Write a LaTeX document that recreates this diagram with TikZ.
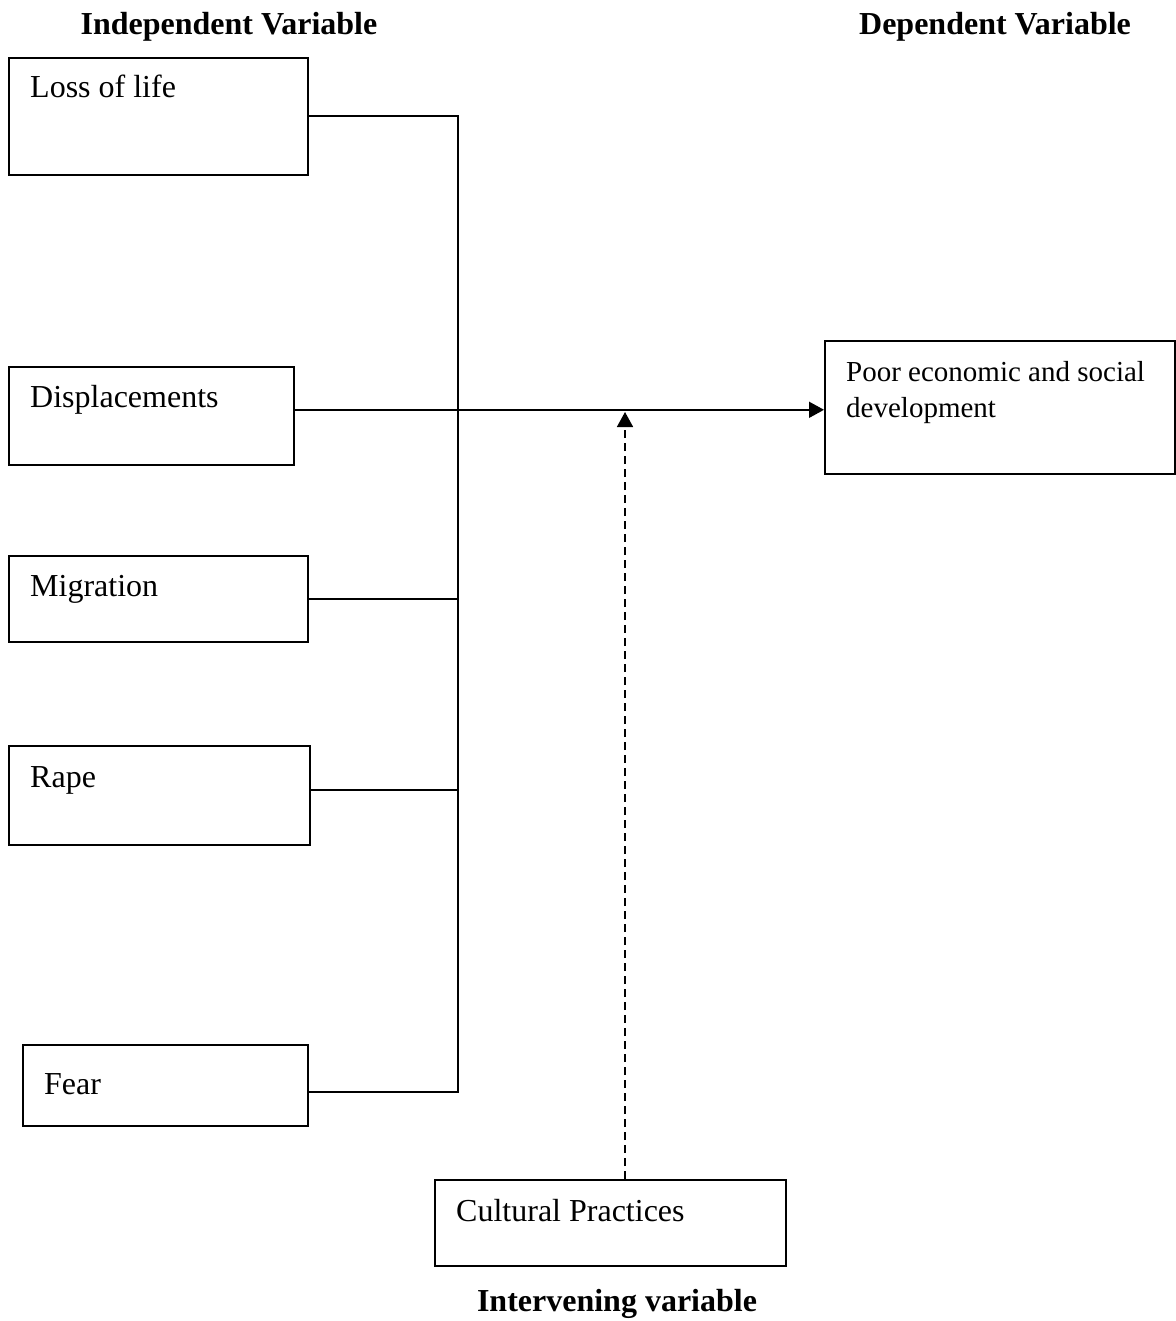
\documentclass[tikz,border=0pt]{standalone}
\usepackage{fontspec}
\setmainfont{Liberation Serif}
\usetikzlibrary{arrows.meta}

\begin{document}
\begin{tikzpicture}[x=1pt,y=-1pt]
		\tikzstyle{every node}+=[inner sep=0pt]
		\tikzstyle{varbox}=[draw=black, line width=1.6pt, anchor=north west]
		\tikzstyle{boxtext}=[anchor=base west, font=\fontsize{32}{36}\selectfont]
		\tikzstyle{heading}=[anchor=base, font=\fontsize{32}{36}\selectfont\bfseries]
		\tikzstyle{link}=[black, line width=1.6pt]
		\tikzstyle{tip}=[-{Triangle[length=15pt,width=16pt]}]
		\useasboundingbox (0,0) rectangle (1175,1321);
		% headings
		\node [heading] (indep) at (229,35) {Independent Variable};
		\node [heading] (dep) at (995,35) {Dependent Variable};
		\node [heading] (interv) at (617,1311) {Intervening variable};
		% independent variables
		\node [varbox, minimum width=299pt, minimum height=117pt] (loss) at (8,57) {};
		\node [boxtext] (losstext) at (30,98) {Loss of life};
		\node [varbox, minimum width=285pt, minimum height=98pt] (disp) at (8,366) {};
		\node [boxtext] (disptext) at (30,407) {Displacements};
		\node [varbox, minimum width=299pt, minimum height=86pt] (migr) at (8,555) {};
		\node [boxtext] (migrtext) at (30,596) {Migration};
		\node [varbox, minimum width=301pt, minimum height=99pt] (rape) at (8,745) {};
		\node [boxtext] (rapetext) at (30,787) {Rape};
		\node [varbox, minimum width=285pt, minimum height=81pt] (fear) at (22,1044) {};
		\node [boxtext] (feartext) at (44,1094) {Fear};
		% dependent and intervening variables
		\node [varbox, minimum width=350pt, minimum height=133pt] (poor) at (824,340) {};
		\node [boxtext, align=left, font=\fontsize{29}{36}\selectfont] (poortext) at (846,417) {Poor economic and social\\development};
		\node [varbox, minimum width=351pt, minimum height=86pt] (cult) at (434,1179) {};
		\node [boxtext] (culttext) at (456,1221) {Cultural Practices};
		% connectors
		\coordinate (spine) at (458,0);
		\coordinate (dispout) at ([yshift=6pt]disp.east);
		\coordinate (rapeout) at ([yshift=5.5pt]rape.east);
		\coordinate (fearout) at ([yshift=-6.5pt]fear.east);
		\coordinate (moderate) at (625,409);
		\draw [link] (loss.east) -- (loss.east -| spine) -- (fearout -| spine) -- (fearout);
		\draw [link] (migr.east) -- (migr.east -| spine);
		\draw [link] (rapeout) -- (rapeout -| spine);
		\draw [link, tip] (dispout) -- (dispout -| poor.west);
		\draw [link, tip, dash pattern=on 8pt off 5pt] (cult.north -| moderate) -- ([yshift=-3pt]moderate);
	\end{tikzpicture}
\end{document}
